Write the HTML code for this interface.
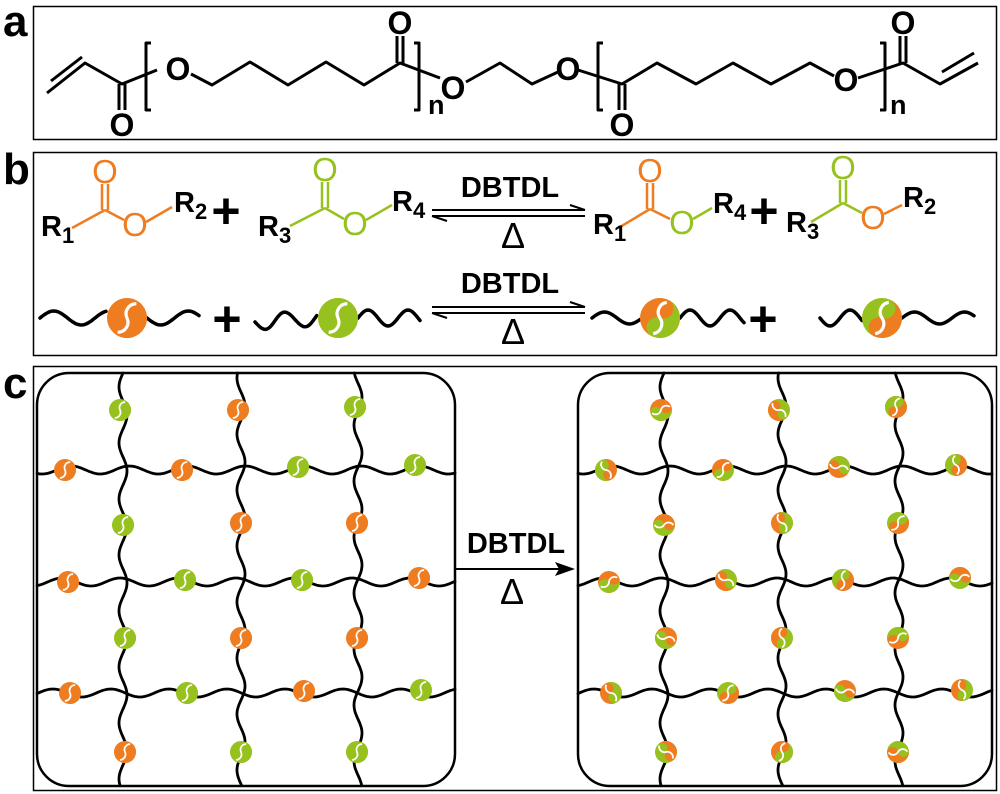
<!DOCTYPE html>
<html><head><meta charset="utf-8"><style>
html,body{margin:0;padding:0;background:#fff;}
svg{display:block;}
text{font-family:"Liberation Sans",Arial,sans-serif;font-weight:bold;}
</style></head><body>
<svg id="s" width="1000" height="794" viewBox="0 0 1000 794" xmlns="http://www.w3.org/2000/svg">
<rect x="0" y="0" width="1000" height="794" fill="#fff"/>
<rect x="33.5" y="6.5" width="963" height="133" fill="none" stroke="#000" stroke-width="1.5"/>
<rect x="33.5" y="152.5" width="963" height="203" fill="none" stroke="#000" stroke-width="1.5"/>
<rect x="33.5" y="366.5" width="963" height="424" fill="none" stroke="#000" stroke-width="1.5"/>
<text x="3" y="36" font-size="44">a</text>
<text x="3" y="184" font-size="44">b</text>
<text x="3" y="398" font-size="44">c</text>

<!-- panel a -->
<g fill="none" stroke="#000" stroke-width="3" stroke-linejoin="round">
<polyline points="47,93 85,63 122,84 157,70"/>
<line x1="51" y1="81" x2="82" y2="57"/>
<line x1="119" y1="84" x2="119" y2="110"/><line x1="125" y1="84" x2="125" y2="110"/>
<path d="M151 43 h-5 v67 h5"/>
<polyline points="191,74 212,85 250,62 288,85 326,62 364,85 400,63 440,78"/>
<line x1="397" y1="63" x2="397" y2="36"/><line x1="403" y1="63" x2="403" y2="36"/>
<path d="M414 43 h5 v67 h-5"/>
<polyline points="466,82 500,63 532,84 558,72"/>
<polyline points="578,70 622,84 657,63 696,84 733,63 771,84 810,63 834,76"/>
<line x1="619" y1="84" x2="619" y2="110"/><line x1="625" y1="84" x2="625" y2="110"/>
<path d="M603 43 h-5 v67 h5"/>
<polyline points="858,78 903,63 940,84 978,63"/>
<line x1="900" y1="63" x2="900" y2="36"/><line x1="906" y1="63" x2="906" y2="36"/>
<line x1="942" y1="72" x2="974" y2="53"/>
<path d="M880 43 h5 v67 h-5"/>
</g>
<g font-size="32" text-anchor="middle">
<text x="122" y="136">O</text><text x="178" y="80">O</text>
<text x="400" y="34">O</text><text x="453" y="99">O</text>
<text x="568" y="80">O</text><text x="622" y="136">O</text>
<text x="846" y="91">O</text><text x="903" y="34">O</text>
</g>
<text x="428" y="114" font-size="27">n</text>
<text x="890" y="114" font-size="27">n</text>

<!-- panel b row 1 -->
<g stroke-width="2.5" fill="none">
<line x1="72" y1="228" x2="105" y2="210" stroke="#ee7d22"/>
<line x1="102" y1="210" x2="102" y2="184" stroke="#ee7d22"/><line x1="108" y1="210" x2="108" y2="184" stroke="#ee7d22"/>
<line x1="105" y1="210" x2="124" y2="220" stroke="#ee7d22"/>
<line x1="146" y1="222" x2="172" y2="207" stroke="#ee7d22"/>
<line x1="290" y1="226" x2="325" y2="208" stroke="#96c11f"/>
<line x1="322" y1="208" x2="322" y2="182" stroke="#96c11f"/><line x1="328" y1="208" x2="328" y2="182" stroke="#96c11f"/>
<line x1="325" y1="208" x2="344" y2="219" stroke="#96c11f"/>
<line x1="366" y1="220" x2="392" y2="205" stroke="#96c11f"/>
<line x1="620" y1="227" x2="650" y2="209" stroke="#ee7d22"/>
<line x1="647" y1="209" x2="647" y2="183" stroke="#ee7d22"/><line x1="653" y1="209" x2="653" y2="183" stroke="#ee7d22"/>
<line x1="650" y1="209" x2="670" y2="219" stroke="#ee7d22"/>
<line x1="693" y1="219" x2="712" y2="208" stroke="#96c11f"/>
<line x1="811" y1="222" x2="843" y2="203" stroke="#96c11f"/>
<line x1="840" y1="203" x2="840" y2="180" stroke="#96c11f"/><line x1="846" y1="203" x2="846" y2="180" stroke="#96c11f"/>
<line x1="843" y1="203" x2="862" y2="213" stroke="#96c11f"/>
<line x1="884" y1="214" x2="902" y2="205" stroke="#ee7d22"/>
</g>
<g font-size="33" text-anchor="middle">
<text x="105" y="183" fill="#ee7d22" style="font-weight:normal">O</text>
<text x="135" y="236" fill="#ee7d22" style="font-weight:normal">O</text>
<text x="325" y="181" fill="#96c11f" style="font-weight:normal">O</text>
<text x="355" y="235" fill="#96c11f" style="font-weight:normal">O</text>
<text x="650" y="182" fill="#ee7d22" style="font-weight:normal">O</text>
<text x="682" y="234" fill="#96c11f" style="font-weight:normal">O</text>
<text x="843" y="179" fill="#96c11f" style="font-weight:normal">O</text>
<text x="873" y="229" fill="#ee7d22" style="font-weight:normal">O</text>
</g>
<g font-size="29">
<text x="41" y="236">R<tspan font-size="22" dy="7">1</tspan></text>
<text x="174" y="212">R<tspan font-size="22" dy="7">2</tspan></text>
<text x="258" y="236">R<tspan font-size="22" dy="7">3</tspan></text>
<text x="392" y="211">R<tspan font-size="22" dy="7">4</tspan></text>
<text x="593" y="234">R<tspan font-size="22" dy="7">1</tspan></text>
<text x="713" y="213">R<tspan font-size="22" dy="7">4</tspan></text>
<text x="786" y="232">R<tspan font-size="22" dy="7">3</tspan></text>
<text x="903" y="207">R<tspan font-size="22" dy="7">2</tspan></text>
</g>
<g font-size="50" text-anchor="middle">
<text x="226" y="228">+</text><text x="764" y="228">+</text>
<text x="227" y="336">+</text><text x="763" y="336">+</text>
</g>
<g stroke="#000" stroke-width="2" fill="none">
<line x1="432" y1="210" x2="585" y2="210"/><polyline points="585,210 570,205"/>
<line x1="432" y1="216" x2="585" y2="216"/><polyline points="432,216 447,221"/>
<line x1="432" y1="307" x2="585" y2="307"/><polyline points="585,307 570,302"/>
<line x1="432" y1="313" x2="585" y2="313"/><polyline points="432,313 447,318"/>
</g>
<g font-size="29" text-anchor="middle">
<text x="510" y="197">DBTDL</text><text x="510" y="293">DBTDL</text>
</g>
<g font-size="36" text-anchor="middle">
<text x="513" y="248" style="font-weight:normal">Δ</text><text x="513" y="344" style="font-weight:normal">Δ</text>
</g>

<!-- panel c -->
<rect x="37" y="373" width="418" height="413" rx="32" fill="none" stroke="#000" stroke-width="2.5"/>
<rect x="578" y="373" width="414" height="413" rx="32" fill="none" stroke="#000" stroke-width="2.5"/>
<line x1="456" y1="569" x2="560" y2="569" stroke="#000" stroke-width="2"/>
<polygon points="575,569 555,562 559,569 555,576" fill="#000"/>
<text x="516" y="553" font-size="29" text-anchor="middle">DBTDL</text>
<text x="512" y="604" font-size="36" text-anchor="middle" style="font-weight:normal">Δ</text>
<g id="dyn"></g>
</svg>
<script>
var O="#ee7d22",G="#96c11f",out="";
function wave(x1,y1,x2,y2,amp,wl,ph,w){
  var dx=x2-x1,dy=y2-y1,L=Math.sqrt(dx*dx+dy*dy),ux=dx/L,uy=dy/L,nx=-uy,ny=ux,p=[];
  for(var t=0;t<=L;t+=2){var o=amp*Math.sin(2*Math.PI*t/wl+(ph||0));p.push((x1+ux*t+nx*o).toFixed(1)+","+(y1+uy*t+ny*o).toFixed(1));}
  return '<polyline points="'+p.join(" ")+'" fill="none" stroke="#000" stroke-width="'+(w||2.8)+'" stroke-linejoin="round" stroke-linecap="round"/>';
}
function bead(cx,cy,r,a,b,rot){
  var s='<g transform="translate('+cx+','+cy+') rotate('+rot+') scale('+r+')">';
  s+='<circle r="1" fill="'+a+'"/>';
  s+='<path d="M0,-1 A1,1 0 0 1 0,1 A0.5,0.5 0 0 1 0,0 A0.5,0.5 0 0 0 0,-1Z" fill="'+b+'"/>';
  s+='<path d="M0.05,-0.85 A0.5,0.5 0 0 0 0,0 A0.5,0.5 0 0 1 -0.05,0.85" fill="none" stroke="#fff" stroke-width="0.16"/>';
  return s+'</g>';
}
out+=wave(40,318,107,318,7,55,Math.PI,3.5);out+=wave(147,318,200,318,7,55,0,3.5);
out+=bead(127,318,20,O,O,30);
out+=wave(255,322,318,318,8,40,0,3.5);out+=wave(358,318,420,318,8,40,Math.PI,3.5);
out+=bead(338,318,20,G,G,30);
out+=wave(592,318,640,318,6,50,Math.PI,3.5);out+=wave(680,318,745,318,8,40,Math.PI,3.5);
out+=bead(660,318,20,O,G,20);
out+=wave(820,318,862,318,8,40,0,3.5);out+=wave(902,318,975,318,6,50,Math.PI,3.5);
out+=bead(882,318,20,G,O,20);
function net(ox,mixed){
  var vx=[123,241,358],hy=[470,582,693];
  vx.forEach(function(x,i){out+=wave(ox+x,373,ox+x,786,4,56,i);});
  hy.forEach(function(y,i){out+=wave(ox+37,y,ox+(ox?451:455),y,4,58,i+1);});
  var vb=[[120,410,G],[238,410,O],[355,407,G],[123,525,G],[241,523,O],[357,523,O],[125,638,G],[241,638,O],[357,638,O],[125,752,O],[241,752,G],[357,752,G]];
  var hb=[[65,470,O],[182,470,O],[298,467,G],[415,465,G],[68,582,O],[185,580,G],[302,580,G],[419,578,O],[70,693,O],[187,693,G],[304,691,O],[421,690,G]];
  var all=vb.concat(hb),k=0;
  all.forEach(function(b){
    k++;
    if(!mixed) out+=bead(b[0]+ox,b[1],11,b[2],b[2],30);
    else out+=bead(b[0]+ox,b[1],11,k%2?O:G,k%2?G:O,(k*67)%360);
  });
}
net(0,false);net(541,true);
document.getElementById("dyn").innerHTML=out;
</script>
</body></html>
